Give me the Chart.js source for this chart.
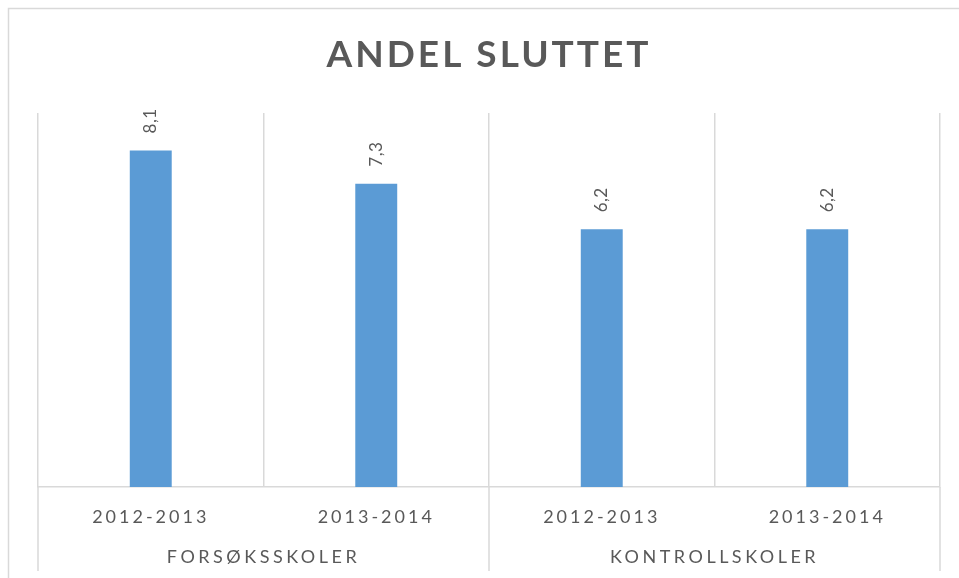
<!DOCTYPE html>
<html>
<head>
<meta charset="utf-8">
<script src="https://cdn.jsdelivr.net/npm/chart.js@4.4.0/dist/chart.umd.min.js"></script>
<style>
  html, body { margin: 0; padding: 0; background: #fff; }
  #wrap { width: 959px; height: 578px; }
</style>
</head>
<body>
<div id="wrap"><canvas id="andelChart" width="959" height="578"></canvas></div>
<script>
// data
const years = ['2012-2013', '2013-2014', '2012-2013', '2013-2014'];
const groups = ['FORSØKSSKOLER', 'KONTROLLSKOLER'];
const groupSizes = [2, 2];
const andelSluttet = [8.1, 7.3, 6.2, 6.2];
const yMax = 9;

const grey = '#d9d9d9';
const textGrey = '#595959';

// outer frame + letter spacing for title / ticks
const frame = {
    id: 'frame',
    beforeDraw(chart) {
        const ctx = chart.ctx;
        ctx.letterSpacing = '3px';
        ctx.save();
        ctx.strokeStyle = grey;
        ctx.lineWidth = 1.5;
        ctx.beginPath();
        ctx.moveTo(8.5, 578);
        ctx.lineTo(8.5, 8.5);
        ctx.lineTo(959, 8.5);
        ctx.stroke();
        ctx.restore();
    }
};

// rotated value labels over the bars
const valueLabels = {
    id: 'valueLabels',
    afterDatasetsDraw(chart) {
        const ctx = chart.ctx;
        chart.getDatasetMeta(0).data.forEach((bar, i) => {
            ctx.save();
            ctx.letterSpacing = '0.5px';
            ctx.translate(bar.x, bar.y - 17);
            ctx.rotate(-Math.PI / 2);
            ctx.font = '17px Lato';
            ctx.fillStyle = textGrey;
            ctx.textAlign = 'left';
            ctx.textBaseline = 'middle';
            ctx.fillText(andelSluttet[i].toFixed(1).replace('.', ','), 0, 0);
            ctx.restore();
        });
    }
};

// second level of the category axis
const groupAxis = {
    id: 'groupAxis',
    afterDraw(chart) {
        const ctx = chart.ctx;
        const xs = chart.scales.x;
        let start = 0;
        ctx.save();
        ctx.strokeStyle = grey;
        ctx.lineWidth = 1.5;
        ctx.fillStyle = textGrey;
        ctx.font = '18px Lato';
        ctx.letterSpacing = '3.5px';
        ctx.textAlign = 'center';
        ctx.textBaseline = 'middle';
        groups.forEach((g, gi) => {
            const end = start + groupSizes[gi];
            const x0 = xs.getPixelForValue(start - 0.5);
            const x1 = xs.getPixelForValue(end - 0.5);
            ctx.beginPath();
            ctx.moveTo(x0, xs.top);
            ctx.lineTo(x0, 571);
            if (gi === groups.length - 1) {
                ctx.moveTo(x1, xs.top);
                ctx.lineTo(x1, 571);
            }
            ctx.stroke();
            ctx.fillText(g, (x0 + x1) / 2, 557);
            start = end;
        });
        ctx.restore();
    }
};

new Chart(document.getElementById('andelChart'), {
    type: 'bar',
    data: {
        labels: years,
        datasets: [{
            label: 'Andel sluttet',
            data: andelSluttet,
            backgroundColor: '#5b9bd5',
            categoryPercentage: 1,
            barPercentage: 0.186
        }]
    },
    options: {
        responsive: false,
        animation: false,
        layout: { padding: { left: 38, right: 19, top: 0, bottom: 0 } },
        plugins: {
            legend: { display: false },
            tooltip: { enabled: false },
            title: {
                display: true,
                text: 'ANDEL SLUTTET',
                color: textGrey,
                font: { family: 'Lato', size: 37, weight: 'bold', lineHeight: 1 },
                padding: { top: 37, bottom: 39 }
            }
        },
        scales: {
            x: {
                offset: true,
                grid: { offset: true, color: grey, lineWidth: 1.5, drawTicks: false },
                border: { color: grey, width: 1.5 },
                ticks: {
                    color: textGrey,
                    font: { family: 'Lato', size: 18 },
                    padding: 19,
                    maxRotation: 0
                },
                afterFit(scale) { scale.height = 91; }
            },
            y: {
                display: false,
                min: 0,
                max: yMax
            }
        }
    },
    plugins: [frame, valueLabels, groupAxis]
});
</script>
</body>
</html>
